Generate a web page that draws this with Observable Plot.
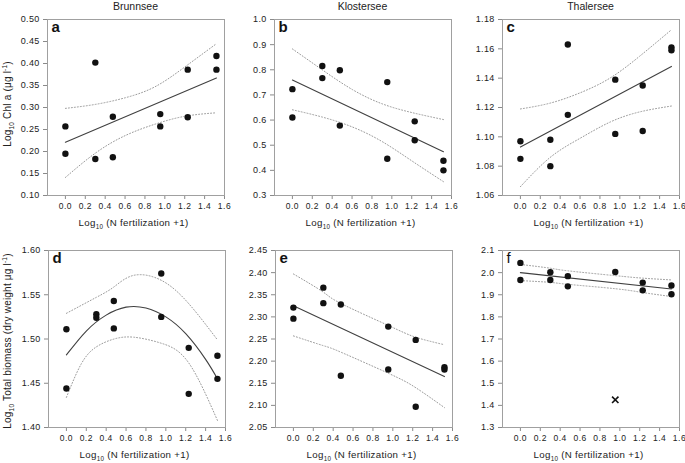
<!DOCTYPE html>
<html>
<head>
<meta charset="utf-8">
<script src="https://cdn.jsdelivr.net/npm/d3@7"></script>
<script src="https://cdn.jsdelivr.net/npm/@observablehq/plot@0.6"></script>
<style>
  body { margin: 0; background: white; font-family: "Liberation Sans", Arial, sans-serif; }
  #fig { position: relative; width: 685px; height: 463px; overflow: hidden; background: white; }
  .lbl { position: absolute; white-space: nowrap; color: #222; transform: translate(-50%, -50%); line-height: 1; }
  .ttl { font-size: 10.5px; }
  .xl { font-size: 9.7px; letter-spacing: 0.3px; }
  .yl { font-size: 10px; letter-spacing: 0.2px; transform: translate(-50%, -50%) rotate(-90deg); }
  sub, sup { font-size: 65%; line-height: 0; }
  svg g[aria-label^="x-axis"] text { font-size: 8.5px; letter-spacing: 0.5px; }
  svg g[aria-label^="y-axis"] text { font-size: 9px; letter-spacing: 0.3px; }
  svg g[aria-label^="x-axis"] line, svg g[aria-label^="x-axis"] path,
  svg g[aria-label^="y-axis"] line, svg g[aria-label^="y-axis"] path { stroke: #8a8a8a; }
</style>
</head>
<body>
<div id="fig"></div>
<script>
// ---------- data ----------
const lakes = ["Brunnsee", "Klostersee", "Thalersee"];
const panelLetters = ["a", "b", "c", "d", "e", "f"];
const xTicks = [0, 0.2, 0.4, 0.6, 0.8, 1.0, 1.2, 1.4, 1.6];
// log10(N fertilization + 1), two replicates per level
const xReps = [0, 0, 0.301, 0.301, 0.477, 0.477, 0.954, 0.954, 1.230, 1.230, 1.519, 1.519];
const xRepsF = [0, 0, 0.301, 0.301, 0.477, 0.477, 0.954, 1.230, 1.230, 1.519, 1.519];
const lineEnds = [0, 1.519];

// (a) Brunnsee Chl a
const chlBrunn = [0.257, 0.195, 0.402, 0.183, 0.279, 0.187, 0.285, 0.257, 0.386, 0.278, 0.417, 0.386];
const chlBrunnFit = [0.221, 0.367];
const bandX_a = [0, 0.3, 0.6, 0.9, 1.2, 1.519];
const chlBrunnUp = [0.298, 0.307, 0.322, 0.347, 0.392, 0.445];
const chlBrunnLo = [0.141, 0.196, 0.236, 0.262, 0.280, 0.288];

// (b) Klostersee Chl a
const chlKlost = [0.723, 0.610, 0.815, 0.767, 0.798, 0.578, 0.751, 0.446, 0.595, 0.520, 0.438, 0.400];
const chlKlostFit = [0.759, 0.474];
const bandX_b = [0, 0.3, 0.6, 0.9, 1.2, 1.519];
const chlKlostUp = [0.883, 0.800, 0.722, 0.665, 0.630, 0.602];
const chlKlostLo = [0.641, 0.612, 0.573, 0.515, 0.438, 0.355];

// (c) Thalersee Chl a
const chlThal = [1.097, 1.085, 1.098, 1.080, 1.163, 1.115, 1.139, 1.102, 1.135, 1.104, 1.161, 1.159];
const chlThalFit = [1.093, 1.148];
const bandX_c = [0, 0.3, 0.6, 0.9, 1.2, 1.519];
const chlThalUp = [1.119, 1.123, 1.130, 1.140, 1.155, 1.173];
const chlThalLo = [1.066, 1.086, 1.099, 1.110, 1.117, 1.121];

// (d) Brunnsee total biomass (quadratic fit)
const bioBrunn = [1.511, 1.444, 1.528, 1.524, 1.543, 1.512, 1.574, 1.525, 1.490, 1.438, 1.481, 1.455];
const fitX_d = [0, 0.2, 0.4, 0.6, 0.8, 1.0, 1.2, 1.4, 1.519];
const bioBrunnFit = [1.482, 1.509, 1.527, 1.536, 1.535, 1.525, 1.506, 1.477, 1.455];
const bandX_d = [0, 0.3, 0.48, 0.68, 0.96, 1.23, 1.519];
const bioBrunnUp = [1.529, 1.547, 1.559, 1.572, 1.566, 1.540, 1.499];
const bandXLo_d = [0, 0.15, 0.3, 0.48, 0.68, 0.96, 1.23, 1.519];
const bioBrunnLo = [1.434, 1.472, 1.491, 1.500, 1.502, 1.495, 1.473, 1.408];

// (e) Klostersee total biomass
const bioKlost = [2.321, 2.296, 2.366, 2.331, 2.328, 2.167, 2.278, 2.181, 2.248, 2.097, 2.186, 2.181];
const bioKlostFit = [2.325, 2.165];
const bandX_e = [0, 0.3, 0.48, 0.96, 1.23, 1.519];
const bioKlostUp = [2.397, 2.356, 2.330, 2.280, 2.254, 2.237];
const bioKlostLo = [2.257, 2.235, 2.220, 2.172, 2.140, 2.095];

// (f) Thalersee total biomass
const bioThal = [2.044, 1.967, 2.002, 1.967, 1.984, 1.938, 2.003, 1.955, 1.920, 1.942, 1.902];
const bioThalOutlier = [{x: 0.954, y: 1.425}];
const bioThalFit = [2.000, 1.926];
const bandX_f = [0, 0.3, 0.48, 0.96, 1.23, 1.519];
const bioThalUp = [2.037, 2.020, 2.008, 1.986, 1.975, 1.967];
const bioThalLo = [1.964, 1.956, 1.947, 1.927, 1.910, 1.892];

// y scales
const yDomains = [[0.10, 0.50], [0.3, 1.0], [1.06, 1.18], [1.40, 1.60], [2.05, 2.45], [1.3, 2.1]];
const yTicks = [
  [0.10, 0.15, 0.20, 0.25, 0.30, 0.35, 0.40, 0.45, 0.50],
  [0.3, 0.4, 0.5, 0.6, 0.7, 0.8, 0.9, 1.0],
  [1.06, 1.08, 1.10, 1.12, 1.14, 1.16, 1.18],
  [1.40, 1.45, 1.50, 1.55, 1.60],
  [2.05, 2.10, 2.15, 2.20, 2.25, 2.30, 2.35, 2.40, 2.45],
  [1.3, 1.4, 1.5, 1.6, 1.7, 1.8, 1.9, 2.0, 2.1]
];
const yFormats = [".2f", ".1f", ".2f", ".2f", ".2f", ".1f"];

// ---------- build ----------
const zip = (xs, ys) => xs.map((x, i) => ({x, y: ys[i]}));

const panels = [
  {pts: zip(xReps, chlBrunn), fit: zip(lineEnds, chlBrunnFit), up: zip(bandX_a, chlBrunnUp), lo: zip(bandX_a, chlBrunnLo)},
  {pts: zip(xReps, chlKlost), fit: zip(lineEnds, chlKlostFit), up: zip(bandX_b, chlKlostUp), lo: zip(bandX_b, chlKlostLo)},
  {pts: zip(xReps, chlThal), fit: zip(lineEnds, chlThalFit), up: zip(bandX_c, chlThalUp), lo: zip(bandX_c, chlThalLo)},
  {pts: zip(xReps, bioBrunn), fit: zip(fitX_d, bioBrunnFit), up: zip(bandX_d, bioBrunnUp), lo: zip(bandXLo_d, bioBrunnLo)},
  {pts: zip(xReps, bioKlost), fit: zip(lineEnds, bioKlostFit), up: zip(bandX_e, bioKlostUp), lo: zip(bandX_e, bioKlostLo)},
  {pts: zip(xRepsF, bioThal), fit: zip(lineEnds, bioThalFit), up: zip(bandX_f, bioThalUp), lo: zip(bandX_f, bioThalLo), out: bioThalOutlier}
];

// frame layout (left of frame, top of frame)
const frameLeft = [47, 274, 502, 48, 275, 502];
const frameTop = [19, 19, 19, 250, 250, 250];
const frameH = [176, 176, 176, 177, 177, 177];
const frameW = 177;
const mL = 45, mR = 6, mT = 19, mB = 40;

const fig = document.getElementById("fig");

panels.forEach((p, i) => {
  const marks = [
    Plot.frame({stroke: "#a0a0a0"}),
    Plot.line(p.up, {x: "x", y: "y", curve: "natural", stroke: "#9a9a9a", strokeWidth: 1, strokeDasharray: "1,2"}),
    Plot.line(p.lo, {x: "x", y: "y", curve: "natural", stroke: "#9a9a9a", strokeWidth: 1, strokeDasharray: "1,2"}),
    Plot.line(p.fit, {x: "x", y: "y", curve: "natural", stroke: "#404040", strokeWidth: 1.1}),
    Plot.dot(p.pts, {x: "x", y: "y", r: 3.2, fill: "#111", stroke: "none"}),
    Plot.text([panelLetters[i]], {text: d => d, frameAnchor: "top-left", textAnchor: "start", lineAnchor: "top",
      dx: 4, dy: 2, fontSize: 15, fontWeight: i === 5 ? "normal" : "bold", fill: "#111"})
  ];
  if (p.out) marks.push(Plot.dot(p.out, {x: "x", y: "y", symbol: "times", r: 3, stroke: "#111", strokeWidth: 1.6}));
  const svg = Plot.plot({
    width: mL + frameW + mR,
    height: mT + frameH[i] + mB,
    marginLeft: mL, marginRight: mR, marginTop: mT, marginBottom: mB,
    style: {background: "transparent", fontFamily: "Liberation Sans, Arial, sans-serif", color: "#222", overflow: "visible"},
    x: {domain: [-0.18, 1.6], ticks: xTicks, tickFormat: ".1f", tickSize: 4, tickPadding: 3, label: null},
    y: {domain: yDomains[i], ticks: yTicks[i], tickFormat: yFormats[i], tickSize: 4, tickPadding: 4, label: null},
    marks
  });
  svg.style.position = "absolute";
  svg.style.left = (frameLeft[i] - mL) + "px";
  svg.style.top = (frameTop[i] - mT) + "px";
  fig.appendChild(svg);
});

// text overlays
function addLabel(html, cls, cx, cy) {
  const d = document.createElement("div");
  d.className = "lbl " + cls;
  d.innerHTML = html;
  d.style.left = cx + "px";
  d.style.top = cy + "px";
  fig.appendChild(d);
}
lakes.forEach((name, j) => addLabel(name, "ttl", frameLeft[j] + frameW / 2, 6));
const xLabel = "Log<sub>10</sub> (N fertilization +1)";
for (let i = 0; i < 6; i++) {
  addLabel(xLabel, "xl", frameLeft[i] + frameW / 2 - 2, frameTop[i] + frameH[i] + 28);
}
addLabel("Log<sub>10</sub> Chl a (μg l<sup>-1</sup>)", "yl", 8, frameTop[0] + frameH[0] / 2 - 3);
addLabel("Log<sub>10</sub> Total biomass (dry weight μg l<sup>-1</sup>)", "yl", 8, frameTop[3] + frameH[3] / 2 + 2);
</script>
</body>
</html>
